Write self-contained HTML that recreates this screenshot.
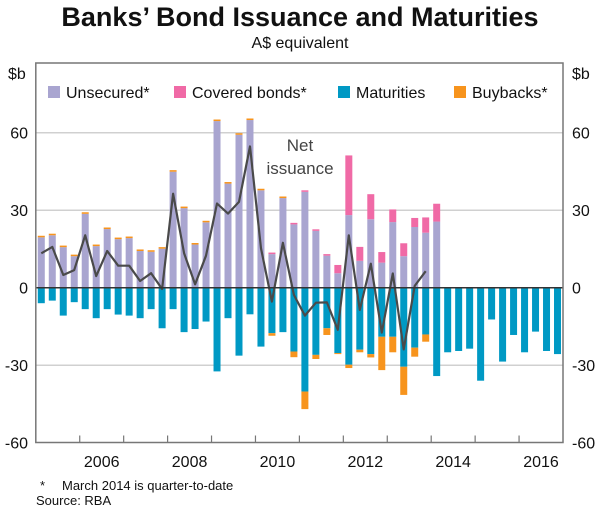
<!DOCTYPE html>
<html><head><meta charset="utf-8"><style>
body{margin:0;background:#fff;}
svg{display:block;font-family:"Liberation Sans",Arial,sans-serif;}
</style></head><body>
<svg id="chart" width="600" height="509" viewBox="0 0 600 509">
<text x="300" y="26" text-anchor="middle" font-size="27" font-weight="bold" fill="#111">Banks’ Bond Issuance and Maturities</text>
<text x="300" y="48" text-anchor="middle" font-size="16" fill="#111">A$ equivalent</text>
<text x="8" y="79" font-size="16" fill="#111">$b</text>
<text x="572" y="79" font-size="16" fill="#111">$b</text>
<g id="grid"></g>
<g id="bars"></g>
<g id="line"></g>
<g id="axes"></g>
<g>
<rect x="48" y="86" width="12" height="12" fill="#a9a5d0"/>
<text x="66" y="98" font-size="16" fill="#111">Unsecured*</text>
<rect x="174" y="86" width="12" height="12" fill="#f06aa6"/>
<text x="192" y="98" font-size="16" fill="#111">Covered bonds*</text>
<rect x="338" y="86" width="12" height="12" fill="#0099c4"/>
<text x="356" y="98" font-size="16" fill="#111">Maturities</text>
<rect x="454" y="86" width="12" height="12" fill="#f7941d"/>
<text x="472" y="98" font-size="16" fill="#111">Buybacks*</text>
</g>
<text x="300" y="151" text-anchor="middle" font-size="17" fill="#444">Net</text>
<text x="300" y="174" text-anchor="middle" font-size="17" fill="#444">issuance</text>
<text x="40" y="490" font-size="13" fill="#111">*</text>
<text x="62" y="490" font-size="13" fill="#111">March 2014 is quarter-to-date</text>
<text x="36" y="505" font-size="13" fill="#111">Source: RBA</text>
</svg>
<script>
const unsecured=[19.5,20.3,15.7,12.2,28.6,16.1,22.7,18.8,19.2,14.2,13.9,15.1,44.9,30.8,16.7,25.3,64.5,40.3,59.2,64.9,37.7,13.0,34.7,24.5,37.1,22.0,12.4,5.6,28.1,10.4,26.5,9.7,25.4,12.2,23.5,21.3,25.6,0,0,0,0,0,0,0,0,0,0,0];
const covered=[0,0,0,0,0,0,0,0,0,0,0,0,0,0,0,0,0,0,0,0,0,0.6,0,0.6,0.6,0.6,0.6,3.2,23.1,5.4,9.7,4.1,4.9,5.0,3.5,5.9,6.9,0,0,0,0,0,0,0,0,0,0,0];
const positiveBuybackCaps=[0.6,0.6,0.6,0.6,0.6,0.6,0.6,0.6,0.6,0.6,0.6,0.6,0.6,0.6,0.6,0.6,0.6,0.6,0.6,0.6,0.6,0,0.6,0,0,0,0,0,0,0,0,0,0,0,0,0,0,0,0,0,0,0,0,0,0,0,0,0];
const maturities=[-6,-5,-10.8,-5.6,-8.3,-11.8,-8.3,-10.4,-10.8,-11.8,-8.3,-15.7,-8.3,-17.2,-16,-13.1,-32.4,-11.8,-26.3,-10.3,-22.8,-17.6,-17.2,-24.7,-40.2,-26,-15.7,-25.3,-29.8,-24,-25.7,-19,-19,-30.6,-23.2,-18.1,-34.2,-25,-24.5,-23.6,-36,-12.3,-28.6,-18.3,-25,-17,-24.5,-25.7];
const buybacks=[0,0,0,0,0,0,0,0,0,0,0,0,0,0,0,0,0,0,0,0,0,-1.0,0,-2.2,-6.8,-1.6,-2.6,-0.4,-1.3,-1.0,-1.3,-12.9,-6.0,-10.9,-3.5,-2.8,0,0,0,0,0,0,0,0,0,0,0,0];
const netIssuance=[13.3,15.8,4.9,6.8,20.3,4.5,14.2,8.5,8.5,2.6,5.6,-0.5,36.4,13.3,1.3,12.4,32.6,28.7,33.2,54.7,15.2,-5.4,17.4,-2.8,-10.8,-5.8,-5.7,-16.3,20.3,-8.6,9.3,-17.4,5.5,-23.9,0.7,6.4];
const yTicks=[60,30,0,-30,-60];
const yearLabels=[2006,2008,2010,2012,2014,2016];
const startYear=2005, endYear=2017;

const NS="http://www.w3.org/2000/svg";
const X0=35.8,X1=563,YTOP=63,YBOT=442.5;
function x(t){return X0+(t-startYear)/(endYear-startYear)*(X1-X0);}
function y(v){return 287.7-v*(155/60);}
function qx(i){return x(startYear+(i+0.5)/4);}
function mk(tag,attrs,parent){const e=document.createElementNS(NS,tag);for(const k in attrs)e.setAttribute(k,attrs[k]);parent.appendChild(e);return e;}
const grid=document.getElementById('grid'),bars=document.getElementById('bars'),line=document.getElementById('line'),axes=document.getElementById('axes');
yTicks.forEach(v=>{
  if(v!==0&&v!==-60){const g=mk('line',{x1:X0,x2:X1,y1:y(v),y2:y(v),stroke:'#d0d0d0','stroke-width':1.5},grid);
  
  }
  const l=mk('text',{x:28,y:y(v)+6,'text-anchor':'end','font-size':16,fill:'#111'},axes);l.textContent=v;
  
  
  const r=mk('text',{x:572,y:y(v)+6,'font-size':16,fill:'#111'},axes);r.textContent=v;
  
  
});
const W=7;
function bar(i,v0,v1,color,name){
  if(v1===v0)return;
  const r=mk('rect',{x:qx(i)-W/2,y:Math.min(y(v0),y(v1)),width:W,height:Math.abs(y(v1)-y(v0)),fill:color},bars);
  
  
}
for(let i=0;i<unsecured.length;i++){
  bar(i,0,unsecured[i],'#a9a5d0','bar-unsecured-'+i);
  bar(i,unsecured[i],unsecured[i]+covered[i],'#f06aa6','bar-covered-'+i);
  const top=unsecured[i]+covered[i];
  bar(i,top,top+positiveBuybackCaps[i],'#f7941d','bar-buyback-cap-'+i);
  bar(i,0,maturities[i],'#0099c4','bar-maturities-'+i);
  bar(i,maturities[i],maturities[i]+buybacks[i],'#f7941d','bar-buybacks-'+i);
}
const pts=netIssuance.map((v,i)=>qx(i).toFixed(1)+','+y(v).toFixed(1)).join(' ');
const pl=mk('polyline',{points:pts,fill:'none',stroke:'#4a4a4a','stroke-width':2.2,'stroke-linejoin':'round'},line);


const z=mk('line',{x1:X0,x2:X1,y1:y(0),y2:y(0),stroke:'#333','stroke-width':1.5},axes);


const fr=mk('rect',{x:X0,y:YTOP,width:X1-X0,height:YBOT-YTOP,fill:'none',stroke:'#777','stroke-width':1.5},axes);


for(let yr=startYear+1;yr<endYear;yr++){
  const t=mk('line',{x1:x(yr),x2:x(yr),y1:YBOT,y2:YBOT-7,stroke:'#777','stroke-width':1.2},axes);
  
  
}
yearLabels.forEach(yr=>{
  const t=mk('text',{x:x(yr+0.5),y:467,'text-anchor':'middle','font-size':16,fill:'#111'},axes);t.textContent=yr;
  
  
});
</script>
</body></html>
